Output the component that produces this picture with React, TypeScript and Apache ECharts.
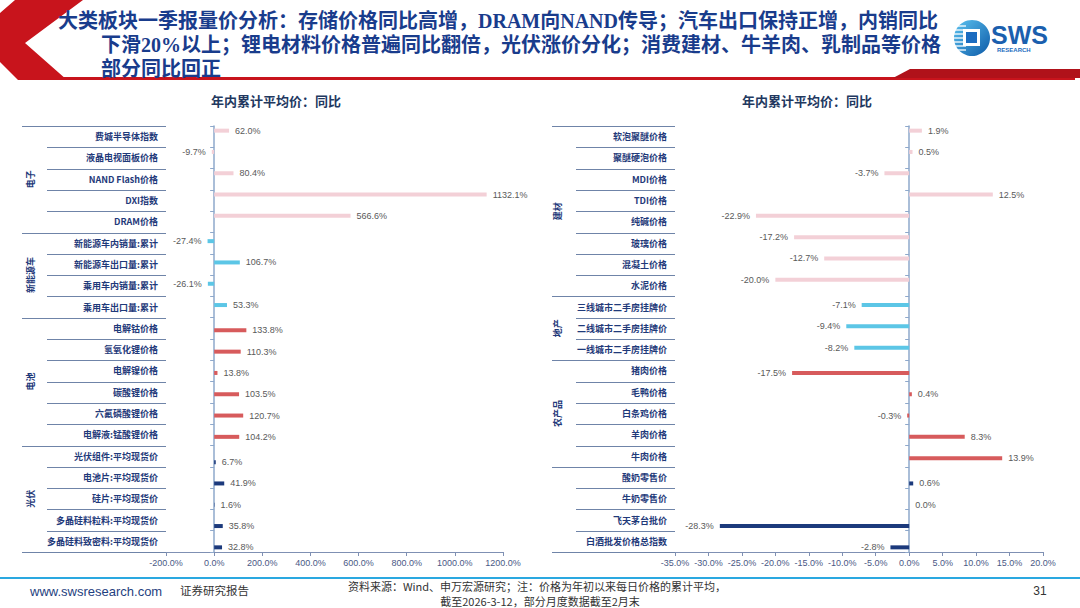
import React, { useEffect, useRef } from 'react';
import * as echarts from 'echarts';

// ---------- data ----------
const leftCategories = [
  '费城半导体指数', '液晶电视面板价格', 'NAND Flash价格', 'DXI指数', 'DRAM价格',
  '新能源车内销量:累计', '新能源车出口量:累计', '乘用车内销量:累计', '乘用车出口量:累计',
  '电解钴价格', '氢氧化锂价格', '电解镍价格', '碳酸锂价格', '六氟磷酸锂价格', '电解液:锰酸锂价格',
  '光伏组件:平均现货价', '电池片:平均现货价', '硅片:平均现货价', '多晶硅料粒料:平均现货价', '多晶硅料致密料:平均现货价',
];
const leftValues = [
  62.0, -9.7, 80.4, 1132.1, 566.6,
  -27.4, 106.7, -26.1, 53.3,
  133.8, 110.3, 13.8, 103.5, 120.7, 104.2,
  6.7, 41.9, 1.6, 35.8, 32.8,
];
const leftGroupNames = ['电子', '新能源车', '电池', '光伏'];
const leftGroupSizes = [5, 4, 6, 5];
const leftAxisMin = -200;
const leftAxisMax = 1200;
const leftAxisInterval = 200;

const rightCategories = [
  '软泡聚醚价格', '聚醚硬泡价格', 'MDI价格', 'TDI价格', '纯碱价格', '玻璃价格', '混凝土价格', '水泥价格',
  '三线城市二手房挂牌价', '二线城市二手房挂牌价', '一线城市二手房挂牌价',
  '猪肉价格', '毛鸭价格', '白条鸡价格', '羊肉价格', '牛肉价格',
  '酸奶零售价', '牛奶零售价', '飞天茅台批价', '白酒批发价格总指数',
];
const rightValues = [
  1.9, 0.5, -3.7, 12.5, -22.9, -17.2, -12.7, -20.0,
  -7.1, -9.4, -8.2,
  -17.5, 0.4, -0.3, 8.3, 13.9,
  0.6, 0.0, -28.3, -2.8,
];
const rightGroupNames = ['建材', '地产', '农产品', ''];
const rightGroupSizes = [8, 3, 5, 4];
const rightAxisMin = -35;
const rightAxisMax = 20;
const rightAxisInterval = 5;

const groupColors = ['#f3d0d7', '#5cc6e6', '#d75b5c', '#1c3a7c'];

const chartTitle = '年内累计平均价：同比';
const titleLines = [
  '大类板块一季报量价分析：存储价格同比高增，DRAM向NAND传导；汽车出口保持正增，内销同比',
  '下滑20%以上；锂电材料价格普遍同比翻倍，光伏涨价分化；消费建材、牛羊肉、乳制品等价格',
  '部分同比回正',
];
const sourceLines = [
  '资料来源：Wind、申万宏源研究；注：价格为年初以来每日价格的累计平均，',
  '截至2026-3-12，部分月度数据截至2月末',
];

// ---------- layout ----------
const GRID_TOP = 126;
const GRID_H = 426;
const LEFT_GRID = { left: 166, width: 337 };
const RIGHT_GRID = { left: 675, width: 368 };

const SANS = '"Liberation Sans", "Noto Sans CJK SC", sans-serif';
const CJK = '"Noto Sans CJK SC", "Liberation Sans", sans-serif';
const NAVY = '#1f3a7a';
const LINE = '#6f84a8';

function buildSeries(values: number[], sizes: number[], xIdx: number, yIdx: number) {
  const groupOf: number[] = [];
  sizes.forEach((s, g) => { for (let k = 0; k < s; k++) groupOf.push(g); });
  return sizes.map((_, g) => ({
    type: 'bar',
    xAxisIndex: xIdx,
    yAxisIndex: yIdx,
    barWidth: 4,
    barGap: '0%',
    itemStyle: { color: groupColors[g] },
    label: {
      show: true,
      formatter: (p: any) => Number(p.value).toFixed(1) + '%',
      fontSize: 9,
      color: '#595959',
      distance: 6,
      fontFamily: SANS,
    },
    data: values.map((v, i) =>
      groupOf[i] === g ? { value: v, label: { position: v < 0 ? 'left' : 'right' } } : '-'
    ),
  }));
}

function tableGraphics(sizes: number[], names: string[], groupX: number, innerX: number, endX: number, labelX: number) {
  const n = sizes.reduce((a, b) => a + b, 0);
  const band = GRID_H / n;
  const bounds = new Set<number>([0]);
  let c = 0;
  sizes.forEach((s) => { c += s; bounds.add(c); });
  const els: any[] = [];
  for (let i = 0; i <= n; i++) {
    const y = Math.round(GRID_TOP + i * band) + 0.5;
    els.push({
      type: 'line',
      shape: { x1: bounds.has(i) ? groupX : innerX, y1: y, x2: endX, y2: y },
      style: { stroke: LINE, lineWidth: 1 },
      z: 5,
    });
  }
  let start = 0;
  sizes.forEach((s, g) => {
    if (names[g]) {
      els.push({
        type: 'text',
        x: labelX,
        y: GRID_TOP + (start + s / 2) * band,
        rotation: Math.PI / 2,
        style: {
          text: names[g],
          font: 'bold 9px ' + CJK,
          fill: NAVY,
          align: 'center', verticalAlign: 'middle',
          textAlign: 'center', textVerticalAlign: 'middle',
        },
      });
    }
    start += s;
  });
  return els;
}

function txt(text: string, x: number, y: number, font: string, fill: string, align = 'left') {
  return {
    type: 'text', x, y,
    style: { text, font, fill, align, verticalAlign: 'middle', textAlign: align, textVerticalAlign: 'middle' },
    z: 10,
  };
}

function valueAxis(grid: number, min: number, max: number, interval: number) {
  return {
    type: 'value', gridIndex: grid, min, max, interval,
    axisLine: { show: true, onZero: false, lineStyle: { color: '#7f90b3', width: 1 } },
    axisTick: { show: true, length: 4, lineStyle: { color: '#7f90b3' } },
    axisLabel: {
      fontSize: 9, color: '#4a5885', margin: 6, fontFamily: SANS,
      formatter: (v: number) => v.toFixed(1) + '%',
    },
    splitLine: { show: false },
  };
}

function labelAxis(grid: number, cats: string[]) {
  return {
    type: 'category', gridIndex: grid, data: cats, inverse: true, position: 'left',
    axisLine: { show: false, onZero: false },
    axisTick: { show: false },
    axisLabel: { interval: 0, fontSize: 9, color: NAVY, fontWeight: 'bold', margin: 8, fontFamily: CJK },
    splitLine: { show: false },
  };
}

function zeroAxis(grid: number, cats: string[]) {
  return {
    type: 'category', gridIndex: grid, data: cats, inverse: true, position: 'left',
    axisLine: { show: true, onZero: true, lineStyle: { color: '#8ea8cb', width: 1.5 } },
    axisTick: { show: true, length: 4, inside: false, lineStyle: { color: '#8ea8cb' } },
    axisLabel: { show: false },
    splitLine: { show: false },
  };
}

export default function App() {
  const ref = useRef<HTMLDivElement>(null);
  useEffect(() => {
    if (!ref.current) return;
    const chart = echarts.init(ref.current, undefined, { renderer: 'svg' });

    const logo = [
      {
        type: 'circle', shape: { cx: 972, cy: 38, r: 18 },
        style: {
          fill: new echarts.graphic.LinearGradient(0, 0, 1, 1, [
            { offset: 0, color: '#5cc3f0' },
            { offset: 1, color: '#0d5aa8' },
          ]),
        },
        z: 10,
      },
      ...[26, 30, 34, 38, 42, 46, 50].map((y) => ({
        type: 'line', shape: { x1: 953, y1: y, x2: 966, y2: y },
        style: { stroke: '#ffffff', lineWidth: 1.3 }, z: 11,
      })),
      { type: 'rect', shape: { x: 963, y: 29, width: 17, height: 17 }, style: { fill: '#ffffff' }, z: 11 },
      { type: 'rect', shape: { x: 966, y: 32, width: 11, height: 11 }, style: { fill: '#1b6cc0' }, z: 12 },
      txt('SWS', 991, 35, 'bold 25px ' + SANS, '#1b5fae'),
      txt('RESEARCH', 997, 50, 'bold 6px ' + SANS, '#1b6cc0'),
    ];

    const header = [
      {
        type: 'polygon',
        shape: { points: [[15, 0], [83, 0], [25, 43], [67, 80], [18, 80], [0, 62], [0, 13]] },
        style: { fill: '#c8141c' }, z: 1,
      },
      { type: 'rect', shape: { x: 40, y: 77, width: 1035, height: 3 }, style: { fill: '#c8141c' }, z: 1 },
      {
        type: 'polygon',
        shape: { points: [[893, 78], [910, 69], [1080, 69], [1080, 78]] },
        style: { fill: '#b0121a' }, z: 1,
      },
      txt(titleLines[0], 58, 21, 'bold 20px "Liberation Serif", "Noto Sans CJK SC", serif', '#193c8c'),
      txt(titleLines[1], 101, 45, 'bold 20px "Liberation Serif", "Noto Sans CJK SC", serif', '#193c8c'),
      txt(titleLines[2], 101, 69, 'bold 20px "Liberation Serif", "Noto Sans CJK SC", serif', '#193c8c'),
    ];

    const footer = [
      { type: 'line', shape: { x1: 0, y1: 578, x2: 1080, y2: 578 }, style: { stroke: '#2aa8e0', lineWidth: 2 } },
      txt('www.swsresearch.com', 30, 591, '13px ' + SANS, '#1f3f80'),
      txt('证券研究报告', 180, 590, '11.5px ' + CJK, '#333333'),
      txt(sourceLines[0], 537, 586, '11px ' + CJK, '#333333', 'center'),
      txt(sourceLines[1], 540, 601, '11px ' + CJK, '#333333', 'center'),
      txt('31', 1040, 591, '12px ' + SANS, '#333333', 'center'),
    ];

    const chartTitles = [
      txt(chartTitle, 276, 100, 'bold 13px ' + CJK, '#22385f', 'center'),
      txt(chartTitle, 807, 100, 'bold 13px ' + CJK, '#22385f', 'center'),
    ];

    chart.setOption({
      animation: false,
      backgroundColor: '#ffffff',
      textStyle: { fontFamily: SANS },
      grid: [
        { left: LEFT_GRID.left, top: GRID_TOP, width: LEFT_GRID.width, height: GRID_H, containLabel: false },
        { left: RIGHT_GRID.left, top: GRID_TOP, width: RIGHT_GRID.width, height: GRID_H, containLabel: false },
      ],
      xAxis: [
        valueAxis(0, leftAxisMin, leftAxisMax, leftAxisInterval),
        valueAxis(1, rightAxisMin, rightAxisMax, rightAxisInterval),
      ],
      yAxis: [
        labelAxis(0, leftCategories),
        zeroAxis(0, leftCategories),
        labelAxis(1, rightCategories),
        zeroAxis(1, rightCategories),
      ],
      series: [
        ...buildSeries(leftValues, leftGroupSizes, 0, 0),
        ...buildSeries(rightValues, rightGroupSizes, 1, 2),
      ],
      graphic: [
        ...header,
        ...logo,
        ...chartTitles,
        ...tableGraphics(leftGroupSizes, leftGroupNames, 22, 47, LEFT_GRID.left, 30),
        ...tableGraphics(rightGroupSizes, rightGroupNames, 552, 576, RIGHT_GRID.left, 557),
        ...footer,
      ],
    });
    return () => chart.dispose();
  }, []);
  return (
    <div
      ref={ref}
      style={{ position: 'fixed', left: 0, top: 0, width: 1080, height: 608, background: '#fff' }}
    />
  );
}
